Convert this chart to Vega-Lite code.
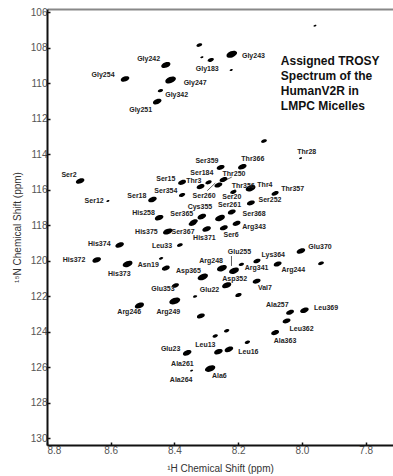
{
  "$schema": "https://vega.github.io/schema/vega-lite/v6.json",
  "width": 346,
  "height": 436,
  "autosize": {"type": "none"},
  "padding": {"left": 47, "top": 9, "right": 0, "bottom": 31},
  "background": "white",
  "config": {
    "view": {"stroke": null},
    "font": "Liberation Sans",
    "axis": {
      "grid": false,
      "domainColor": "#111",
      "domainWidth": 2,
      "tickColor": "#111",
      "tickWidth": 1.5,
      "tickSize": -3,
      "labelColor": "#555",
      "labelFontSize": 10,
      "labelFont": "Liberation Sans",
      "titleFont": "Liberation Sans",
      "titleFontSize": 10,
      "titleFontWeight": "normal",
      "titleColor": "#333"
    }
  },
  "datasets": {
    "peaks": [
      {"h": 8.555, "n": 109.75, "vol": 0.6},
      {"h": 8.427, "n": 108.97, "vol": 0.7},
      {"h": 8.412, "n": 109.81, "vol": 0.95},
      {"h": 8.444, "n": 110.41, "vol": 0.2},
      {"h": 8.454, "n": 111.03, "vol": 0.6},
      {"h": 8.322, "n": 107.84, "vol": 0.25},
      {"h": 8.286, "n": 108.68, "vol": 0.3},
      {"h": 8.22, "n": 108.36, "vol": 0.95},
      {"h": 8.314, "n": 108.53, "vol": 0.04},
      {"h": 8.222, "n": 109.25, "vol": 0.04},
      {"h": 7.959, "n": 106.75, "vol": 0.03},
      {"h": 8.004, "n": 114.22, "vol": 0.03},
      {"h": 8.119, "n": 113.25, "vol": 0.25},
      {"h": 8.696, "n": 115.5, "vol": 0.6},
      {"h": 8.609, "n": 116.63, "vol": 0.04},
      {"h": 8.376, "n": 115.58, "vol": 0.5},
      {"h": 8.376, "n": 116.29, "vol": 0.3},
      {"h": 8.469, "n": 116.55, "vol": 0.6},
      {"h": 8.448, "n": 117.57, "vol": 0.6},
      {"h": 8.421, "n": 118.35, "vol": 0.75},
      {"h": 8.572, "n": 119.11, "vol": 0.6},
      {"h": 8.383, "n": 119.11, "vol": 0.25},
      {"h": 8.644, "n": 119.95, "vol": 0.6},
      {"h": 8.547, "n": 120.18, "vol": 0.8},
      {"h": 8.427, "n": 120.41, "vol": 0.5},
      {"h": 8.442, "n": 119.86, "vol": 0.12},
      {"h": 8.311, "n": 120.91, "vol": 0.9},
      {"h": 8.397, "n": 121.39, "vol": 0.4},
      {"h": 8.51, "n": 122.52, "vol": 0.7},
      {"h": 8.399, "n": 122.26, "vol": 1.0},
      {"h": 8.335, "n": 122.01, "vol": 0.1},
      {"h": 8.199, "n": 121.93, "vol": 0.3},
      {"h": 8.255, "n": 114.74, "vol": 0.5},
      {"h": 8.187, "n": 114.7, "vol": 0.6},
      {"h": 8.318, "n": 115.82, "vol": 0.5},
      {"h": 8.293, "n": 115.58, "vol": 0.3},
      {"h": 8.262, "n": 115.73, "vol": 0.5},
      {"h": 8.246, "n": 115.42, "vol": 0.5},
      {"h": 8.161, "n": 115.91, "vol": 0.8},
      {"h": 8.084, "n": 116.2, "vol": 0.4},
      {"h": 8.215, "n": 116.12, "vol": 0.3},
      {"h": 8.16, "n": 116.74, "vol": 0.5},
      {"h": 8.22, "n": 117.25, "vol": 0.5},
      {"h": 8.257, "n": 117.59, "vol": 0.8},
      {"h": 8.314, "n": 117.51, "vol": 0.6},
      {"h": 8.339, "n": 117.8, "vol": 0.5},
      {"h": 8.205, "n": 117.89, "vol": 0.5},
      {"h": 8.299, "n": 118.21, "vol": 0.6},
      {"h": 8.245, "n": 118.14, "vol": 0.5},
      {"h": 8.343, "n": 117.89, "vol": 0.5},
      {"h": 8.003, "n": 119.45, "vol": 0.6},
      {"h": 8.141, "n": 120.01, "vol": 0.4},
      {"h": 8.251, "n": 120.42, "vol": 0.8},
      {"h": 8.213, "n": 120.56, "vol": 0.8},
      {"h": 8.19, "n": 120.2, "vol": 0.2},
      {"h": 8.076, "n": 120.18, "vol": 0.5},
      {"h": 7.94, "n": 120.14, "vol": 0.25},
      {"h": 8.142, "n": 121.15, "vol": 0.5},
      {"h": 8.236, "n": 121.38, "vol": 0.7},
      {"h": 8.037, "n": 122.9, "vol": 0.5},
      {"h": 7.992, "n": 122.79, "vol": 0.6},
      {"h": 8.048, "n": 123.39, "vol": 0.5},
      {"h": 8.317, "n": 123.11, "vol": 0.5},
      {"h": 8.236, "n": 123.94, "vol": 0.2},
      {"h": 8.272, "n": 124.24, "vol": 0.2},
      {"h": 8.171, "n": 124.59, "vol": 0.2},
      {"h": 8.084, "n": 124.05, "vol": 0.5},
      {"h": 8.36, "n": 125.19, "vol": 0.6},
      {"h": 8.262, "n": 125.12, "vol": 0.6},
      {"h": 8.229, "n": 124.99, "vol": 0.6},
      {"h": 8.288, "n": 126.07, "vol": 0.9},
      {"h": 8.346, "n": 126.19, "vol": 0.03}
    ],
    "labels": [
      {"h": 8.624, "n": 109.53, "name": "Gly254"},
      {"h": 8.481, "n": 108.64, "name": "Gly242"},
      {"h": 8.335, "n": 109.96, "name": "Gly247"},
      {"h": 8.393, "n": 110.64, "name": "Gly342"},
      {"h": 8.506, "n": 111.5, "name": "Gly251"},
      {"h": 8.297, "n": 109.19, "name": "Gly183"},
      {"h": 8.152, "n": 108.46, "name": "Gly243"},
      {"h": 7.985, "n": 113.88, "name": "Thr28"},
      {"h": 8.731, "n": 115.16, "name": "Ser2"},
      {"h": 8.652, "n": 116.63, "name": "Ser12"},
      {"h": 8.427, "n": 115.41, "name": "Ser15"},
      {"h": 8.427, "n": 116.07, "name": "Ser354"},
      {"h": 8.518, "n": 116.32, "name": "Ser18"},
      {"h": 8.497, "n": 117.28, "name": "His258"},
      {"h": 8.488, "n": 118.35, "name": "His375"},
      {"h": 8.373, "n": 118.38, "name": "Ser367"},
      {"h": 8.636, "n": 119.05, "name": "His374"},
      {"h": 8.439, "n": 119.16, "name": "Leu33"},
      {"h": 8.715, "n": 119.95, "name": "His372"},
      {"h": 8.573, "n": 120.74, "name": "His373"},
      {"h": 8.482, "n": 120.24, "name": "Asn19"},
      {"h": 8.356, "n": 120.56, "name": "Asp365"},
      {"h": 8.436, "n": 121.6, "name": "Glu353"},
      {"h": 8.542, "n": 122.9, "name": "Arg246"},
      {"h": 8.419, "n": 122.87, "name": "Arg249"},
      {"h": 8.412, "n": 124.97, "name": "Glu23"},
      {"h": 8.375, "n": 125.81, "name": "Ala261"},
      {"h": 8.379, "n": 126.72, "name": "Ala264"},
      {"h": 8.259, "n": 126.49, "name": "Ala6"},
      {"h": 8.303, "n": 124.74, "name": "Leu13"},
      {"h": 8.168, "n": 125.12, "name": "Leu16"},
      {"h": 8.053, "n": 124.5, "name": "Ala363"},
      {"h": 8.001, "n": 123.84, "name": "Leu362"},
      {"h": 8.077, "n": 122.49, "name": "Ala257"},
      {"h": 7.924, "n": 122.68, "name": "Leu369"},
      {"h": 8.116, "n": 121.55, "name": "Val7"},
      {"h": 8.29, "n": 121.63, "name": "Glu22"},
      {"h": 8.211, "n": 121.02, "name": "Asp352"},
      {"h": 8.027, "n": 120.52, "name": "Arg244"},
      {"h": 8.142, "n": 120.42, "name": "Arg341"},
      {"h": 8.285, "n": 120.01, "name": "Arg248"},
      {"h": 8.196, "n": 119.5, "name": "Glu255"},
      {"h": 8.09, "n": 119.67, "name": "Lys364"},
      {"h": 7.943, "n": 119.2, "name": "Glu370"},
      {"h": 8.306, "n": 118.71, "name": "His371"},
      {"h": 8.222, "n": 118.53, "name": "Ser6"},
      {"h": 8.15, "n": 118.09, "name": "Arg343"},
      {"h": 8.377, "n": 117.38, "name": "Ser365"},
      {"h": 8.32, "n": 116.98, "name": "Cys355"},
      {"h": 8.227, "n": 116.88, "name": "Ser261"},
      {"h": 8.15, "n": 117.38, "name": "Ser368"},
      {"h": 8.1, "n": 116.57, "name": "Ser252"},
      {"h": 8.307, "n": 116.35, "name": "Ser260"},
      {"h": 8.22, "n": 116.43, "name": "Ser20"},
      {"h": 8.029, "n": 115.95, "name": "Thr357"},
      {"h": 8.116, "n": 115.73, "name": "Thr4"},
      {"h": 8.184, "n": 115.76, "name": "Thr356"},
      {"h": 8.339, "n": 115.5, "name": "Thr3"},
      {"h": 8.314, "n": 115.07, "name": "Ser184"},
      {"h": 8.213, "n": 115.11, "name": "Thr250"},
      {"h": 8.298, "n": 114.4, "name": "Ser359"},
      {"h": 8.154, "n": 114.28, "name": "Thr366"}
    ],
    "leaders": [
      {"h": 8.221, "n": 119.73, "h2": 8.221, "n2": 120.29},
      {"h": 8.297, "n": 116.05, "h2": 8.272, "n2": 115.62},
      {"h": 8.22, "n": 115.28, "h2": 8.25, "n2": 115.55},
      {"h": 8.21, "n": 115.95, "h2": 8.21, "n2": 116.15}
    ]
  },
  "layer": [
    {
      "data": {"name": "leaders"},
      "mark": {"type": "rule", "color": "#333", "strokeWidth": 0.8},
      "encoding": {
        "x": {"field": "h", "type": "quantitative", "scale": {"domain": [7.714, 8.8], "reverse": true, "nice": false, "zero": false}, "axis": null},
        "y": {"field": "n", "type": "quantitative", "scale": {"domain": [105.81, 130.38], "reverse": true, "nice": false, "zero": false}, "axis": null},
        "x2": {"field": "h2"},
        "y2": {"field": "n2"}
      }
    },
    {
      "data": {"name": "peaks"},
      "mark": {"type": "point", "filled": true, "color": "black", "opacity": 1, "angle": -20, "shape": "M-1,0A1,0.55,0,1,1,1,0A1,0.55,0,1,1,-1,0Z"},
      "encoding": {
        "x": {"field": "h", "type": "quantitative", "axis": {"title": "¹H Chemical Shift (ppm)", "values": [8.8, 8.6, 8.4, 8.2, 8.0, 7.8], "format": ".1f", "labelPadding": 3, "titlePadding": 8}},
        "y": {"field": "n", "type": "quantitative", "axis": {"title": "¹⁵N Chemical Shift (ppm)", "values": [106, 108, 110, 112, 114, 116, 118, 120, 122, 124, 126, 128, 130], "format": "d", "labelPadding": 3, "titlePadding": 8}},
        "size": {"field": "vol", "type": "quantitative", "scale": {"domain": [0, 1], "range": [6, 130]}, "legend": null}
      }
    },
    {
      "data": {"name": "labels"},
      "mark": {"type": "text", "font": "Liberation Sans", "fontSize": 7, "fontWeight": "bold", "color": "#222", "align": "center", "baseline": "middle"},
      "encoding": {
        "x": {"field": "h", "type": "quantitative", "axis": {"orient": "top", "labels": false, "ticks": false, "title": null, "domainColor": "#888", "domainWidth": 2}},
        "y": {"field": "n", "type": "quantitative", "axis": null},
        "text": {"field": "name"}
      }
    },
    {
      "data": {"values": [{"h": 8.066, "n": 108.74}]},
      "mark": {"type": "text", "font": "Liberation Sans", "fontSize": 12, "fontWeight": "bold", "color": "#111", "align": "left", "baseline": "middle", "lineHeight": 15, "text": ["Assigned TROSY", "Spectrum of the", "HumanV2R in", "LMPC Micelles"]},
      "encoding": {
        "x": {"field": "h", "type": "quantitative", "axis": null},
        "y": {"field": "n", "type": "quantitative", "axis": null}
      }
    }
  ],
  "resolve": {"axis": {"x": "independent", "y": "independent"}}
}
